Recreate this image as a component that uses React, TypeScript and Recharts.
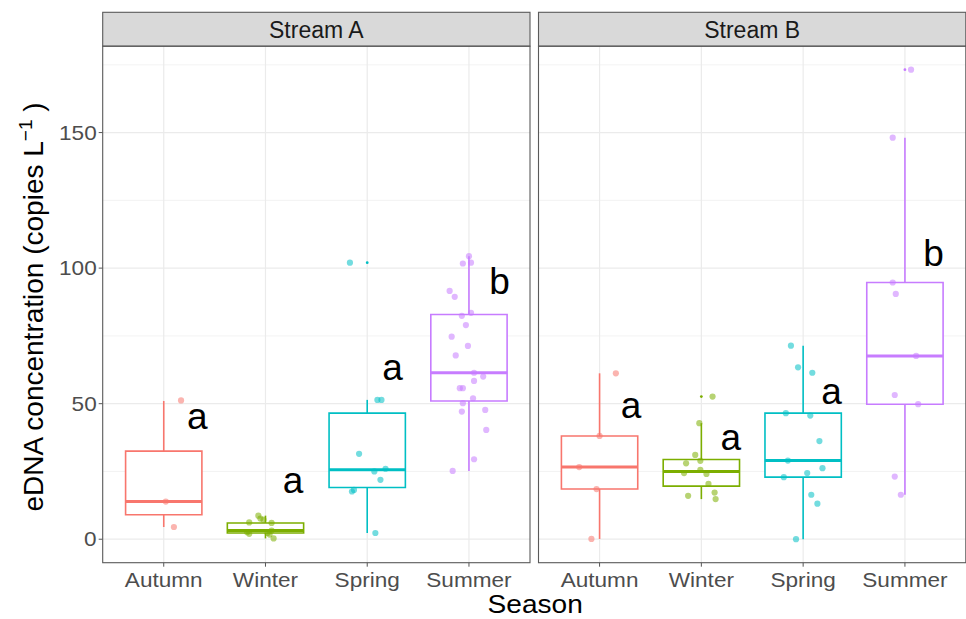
import React from 'react';
import {
  ComposedChart,
  XAxis,
  YAxis,
  CartesianGrid,
  Scatter,
  ReferenceArea,
  ReferenceLine,
} from 'recharts';

// ---------- categories / labels ----------
const seasons = ['Autumn', 'Winter', 'Spring', 'Summer'];
const streams = ['Stream A', 'Stream B'];
const seasonColors = ['#F8766D', '#7CAE00', '#00BFC4', '#C77CFF'];
const yTicks = [0, 50, 100, 150];
const yMinorTicks = [25, 75, 125, 175];
const xTicks = [1, 2, 3, 4];
const yDomain: [number, number] = [-8.66, 181.86];
const xDomain: [number, number] = [0.4, 4.6];

// ---------- Stream A box statistics ----------
const boxLowA = [4.5, 0.3, 2.3, 25.2];
const boxQ1A = [9.0, 2.3, 19.1, 51.0];
const boxMedA = [13.9, 3.2, 25.6, 61.4];
const boxQ3A = [32.5, 6.0, 46.5, 82.9];
const boxHighA = [51.0, 8.7, 51.4, 104.4];
const outlierSeasonA = [3];
const outlierValueA = [102.0];

// ---------- Stream B box statistics ----------
const boxLowB = [0.1, 14.8, 0.0, 16.4];
const boxQ1B = [18.5, 19.6, 22.9, 49.8];
const boxMedB = [26.6, 25.0, 29.0, 67.6];
const boxQ3B = [38.1, 29.4, 46.5, 94.7];
const boxHighB = [61.2, 42.8, 71.4, 148.1];
const outlierSeasonB = [2, 4];
const outlierValueB = [52.6, 173.2];

// ---------- jittered observations: [jitter offset, value] ----------
const ptsAAutumn: [number, number][] = [[0.17, 51.2], [0.02, 13.9], [0.10, 4.5]];
const ptsAWinter: [number, number][] = [
  [-0.07, 8.7], [-0.05, 7.6], [-0.02, 7.2], [-0.16, 6.2], [0.06, 6.0], [0.06, 3.2],
  [-0.18, 2.6], [-0.16, 2.0], [0.02, 2.3], [0.04, 1.7], [0.08, 0.3],
];
const ptsASpring: [number, number][] = [
  [-0.17, 102.0], [0.10, 51.4], [0.14, 51.4], [-0.08, 31.5], [0.07, 25.0],
  [0.18, 26.0], [0.13, 21.9], [-0.13, 18.2], [-0.15, 17.6], [0.08, 2.3],
];
const ptsASummer: [number, number][] = [
  [0.0, 104.4], [-0.06, 101.7], [0.02, 102.0], [-0.19, 91.6], [-0.14, 89.4],
  [-0.07, 82.4], [0.02, 83.5], [-0.03, 79.0], [-0.17, 74.7], [-0.01, 71.3],
  [-0.13, 67.8], [0.05, 61.4], [0.14, 60.0], [0.05, 58.4], [-0.09, 55.7],
  [-0.06, 55.7], [0.04, 52.0], [-0.06, 50.2], [-0.07, 47.1], [0.16, 47.7],
  [0.17, 40.3], [0.05, 29.5], [-0.16, 25.2],
];
const ptsBAutumn: [number, number][] = [[0.16, 61.2], [0.0, 38.1], [-0.20, 26.6], [-0.03, 18.5], [-0.08, 0.1]];
const ptsBWinter: [number, number][] = [
  [0.11, 52.6], [-0.02, 42.8], [-0.06, 31.1], [-0.15, 28.0], [-0.01, 28.9], [-0.17, 24.4],
  [-0.01, 25.6], [0.05, 24.1], [0.07, 20.4], [-0.13, 16.0], [0.13, 17.2], [0.14, 14.8],
];
const ptsBSpring: [number, number][] = [
  [-0.12, 71.4], [-0.05, 63.4], [0.09, 61.4], [-0.17, 46.5], [0.07, 45.6], [0.16, 36.2],
  [-0.15, 29.0], [0.19, 26.2], [0.04, 24.4], [-0.19, 22.9], [0.08, 16.4], [0.14, 13.1], [-0.07, 0.0],
];
const ptsBSummer: [number, number][] = [
  [0.06, 173.2], [-0.12, 148.1], [-0.12, 94.7], [-0.09, 90.5], [0.11, 67.6],
  [-0.10, 53.2], [0.13, 49.8], [-0.10, 23.1], [-0.04, 16.4],
];

// ---------- significance letters ----------
const lettersA = ['a', 'a', 'a', 'b'];
const letterOffsetA = [0.33, 0.27, 0.25, 0.30];
const letterValueA = [40.7, 17.2, 58.7, 90.4];
const lettersB = ['a', 'a', 'a', 'b'];
const letterOffsetB = [0.31, 0.29, 0.28, 0.28];
const letterValueB = [44.6, 33.0, 49.9, 100.9];

const FONT = '"Liberation Sans", Arial, Helvetica, sans-serif';
const BOX_HALF = 0.375;

const XTick = (props: any) => {
  const { x, y, payload } = props;
  return (
    <g transform={`translate(${x},${y})`}>
      <text transform="scale(1.13,1)" textAnchor="middle" dy="0.71em" fontSize={20} fill="#4D4D4D" fontFamily={FONT}>
        {seasons[payload.value - 1]}
      </text>
    </g>
  );
};

const YTick = (props: any) => {
  const { x, y, payload } = props;
  return (
    <g transform={`translate(${x},${y})`}>
      <text transform="scale(1.13,1)" textAnchor="end" dy="0.355em" fontSize={20} fill="#4D4D4D" fontFamily={FONT}>
        {payload.value}
      </text>
    </g>
  );
};

type PanelProps = {
  low: number[]; q1: number[]; med: number[]; q3: number[]; high: number[];
  points: [number, number][][];
  outSeason: number[]; outValue: number[];
  letters: string[]; letterOffset: number[]; letterValue: number[];
  showY: boolean;
  margin: { top: number; right: number; bottom: number; left: number };
};

function Panel(p: PanelProps) {
  const seriesData = p.points.map((arr, i) => arr.map(([dx, v]) => ({ x: i + 1 + dx, y: v })));
  const outData = p.outSeason.map((s, i) => ({ x: s, y: p.outValue[i], c: seasonColors[s - 1] }));
  const letterData = p.letters.map((l, i) => ({ x: i + 1 + p.letterOffset[i], y: p.letterValue[i], label: l }));
  return (
    <ComposedChart width={966} height={619} margin={p.margin} style={{ position: 'absolute', left: 0, top: 0 }}>
      <CartesianGrid horizontalValues={yMinorTicks} vertical={false} stroke="#F0F0F0" strokeWidth={0.8} />
      <CartesianGrid horizontalValues={yTicks} verticalValues={xTicks} stroke="#EBEBEB" strokeWidth={1.2} />
      <XAxis
        type="number" dataKey="x" domain={xDomain} ticks={xTicks} allowDataOverflow interval={0}
        axisLine={false} tickLine={{ stroke: '#555', strokeWidth: 1 }} tickSize={4} tickMargin={5.8}
        tick={<XTick />} height={40}
      />
      <YAxis
        type="number" dataKey="y" domain={yDomain} ticks={yTicks} allowDataOverflow interval={0}
        hide={!p.showY} width={p.showY ? 102.7 : 0}
        axisLine={false} tickLine={{ stroke: '#555', strokeWidth: 1 }} tickSize={4} tickMargin={2}
        tick={<YTick />}
      />
      {seasons.map((s, i) => (
        <ReferenceLine key={`wl${s}`} ifOverflow="visible" stroke={seasonColors[i]} strokeWidth={1.6}
          segment={[{ x: i + 1, y: p.low[i] }, { x: i + 1, y: p.q1[i] }]} />
      ))}
      {seasons.map((s, i) => (
        <ReferenceLine key={`wh${s}`} ifOverflow="visible" stroke={seasonColors[i]} strokeWidth={1.6}
          segment={[{ x: i + 1, y: p.q3[i] }, { x: i + 1, y: p.high[i] }]} />
      ))}
      {seasons.map((s, i) => (
        <ReferenceArea key={`bx${s}`} ifOverflow="visible" x1={i + 1 - BOX_HALF} x2={i + 1 + BOX_HALF}
          y1={p.q1[i]} y2={p.q3[i]} fill="#FFFFFF" fillOpacity={1} stroke={seasonColors[i]} strokeWidth={1.6} />
      ))}
      {seasons.map((s, i) => (
        <ReferenceLine key={`md${s}`} ifOverflow="visible" stroke={seasonColors[i]} strokeWidth={3}
          segment={[{ x: i + 1 - BOX_HALF, y: p.med[i] }, { x: i + 1 + BOX_HALF, y: p.med[i] }]} />
      ))}
      <Scatter
        data={outData} isAnimationActive={false}
        shape={(sp: any) => <circle cx={sp.cx} cy={sp.cy} r={1.4} fill={sp.payload.c} />}
      />
      {seriesData.map((d, i) => (
        <Scatter
          key={`pt${i}`} data={d} isAnimationActive={false}
          shape={(sp: any) => <circle cx={sp.cx} cy={sp.cy} r={3.1} fill={seasonColors[i]} fillOpacity={0.55} />}
        />
      ))}
      <Scatter
        data={letterData} isAnimationActive={false}
        shape={(sp: any) => (
          <text x={sp.cx} y={sp.cy} textAnchor="middle" fontSize={37} fill="#000" fontFamily={FONT}>
            {sp.payload.label}
          </text>
        )}
      />
    </ComposedChart>
  );
}

const panelLeft = [102.7, 538.5];
const panelWidth = 427.3;
const stripTop = 12.3;
const panelTop = 46.2;
const panelBottom = 562.7;

export default function App() {
  return (
    <div style={{ position: 'absolute', left: 0, top: 0, width: 966, height: 619, background: '#fff', overflow: 'hidden', fontFamily: FONT }}>
      <Panel
        low={boxLowA} q1={boxQ1A} med={boxMedA} q3={boxQ3A} high={boxHighA}
        points={[ptsAAutumn, ptsAWinter, ptsASpring, ptsASummer]}
        outSeason={outlierSeasonA} outValue={outlierValueA}
        letters={lettersA} letterOffset={letterOffsetA} letterValue={letterValueA}
        showY={true}
        margin={{ top: 46.2, right: 436, bottom: 16.3, left: 0 }}
      />
      <Panel
        low={boxLowB} q1={boxQ1B} med={boxMedB} q3={boxQ3B} high={boxHighB}
        points={[ptsBAutumn, ptsBWinter, ptsBSpring, ptsBSummer]}
        outSeason={outlierSeasonB} outValue={outlierValueB}
        letters={lettersB} letterOffset={letterOffsetB} letterValue={letterValueB}
        showY={false}
        margin={{ top: 46.2, right: 0, bottom: 16.3, left: 538.5 }}
      />
      <svg width={966} height={619} style={{ position: 'absolute', left: 0, top: 0, pointerEvents: 'none' }}>
        {streams.map((s, i) => (
          <g key={s}>
            <rect x={panelLeft[i]} y={stripTop} width={panelWidth} height={panelTop - stripTop}
              fill="#D9D9D9" stroke="#5A5A5A" strokeWidth={1.1} />
            <text x={panelLeft[i] + panelWidth / 2} y={38.3} textAnchor="middle" fontSize={23} fill="#1A1A1A" fontFamily={FONT}>
              {s}
            </text>
            <rect x={panelLeft[i]} y={panelTop} width={panelWidth} height={panelBottom - panelTop}
              fill="none" stroke="#5A5A5A" strokeWidth={1.1} />
          </g>
        ))}
        <text transform="translate(535.2,612.5) scale(1.08,1)" textAnchor="middle" fontSize={26} fill="#000" fontFamily={FONT}>
          Season
        </text>
        <text transform="translate(43,307) rotate(-90)" textAnchor="middle" fontSize={28} fill="#000" fontFamily={FONT}>
          eDNA concentration (copies L
          <tspan dy={-11} fontSize={19}>−1</tspan>
          <tspan dy={11}> )</tspan>
        </text>
      </svg>
    </div>
  );
}
